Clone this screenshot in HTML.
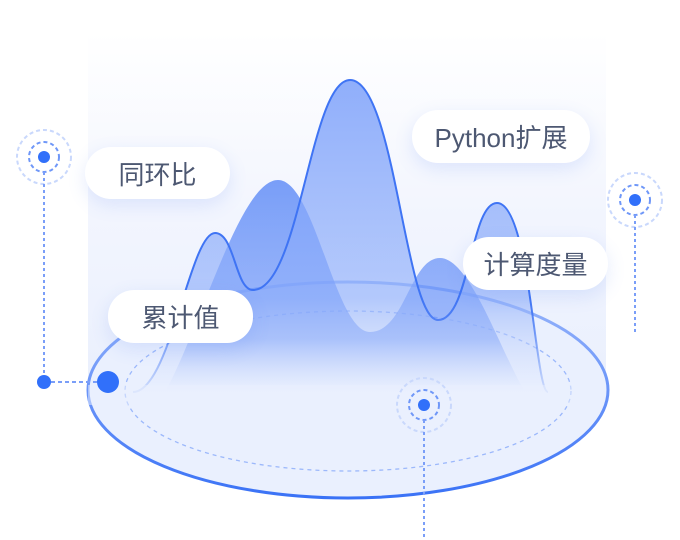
<!DOCTYPE html>
<html><head><meta charset="utf-8"><style>
html,body{margin:0;padding:0;background:#fff;}
body{width:680px;height:540px;position:relative;overflow:hidden;font-family:"Liberation Sans","Noto Sans CJK SC",sans-serif;}
.pill{position:absolute;background:#fff;border-radius:26px;color:#4d5872;font-size:26px;display:flex;align-items:center;justify-content:center;box-shadow:0 6px 18px rgba(90,130,240,0.16);}
</style></head><body>
<svg width="680" height="540" viewBox="0 0 680 540" style="position:absolute;left:0;top:0">
<defs>
<linearGradient id="bg" x1="0" y1="0" x2="0" y2="1">
<stop offset="0" stop-color="#ffffff"/><stop offset="0.5" stop-color="#f2f5fe"/><stop offset="1" stop-color="#e9effd"/>
</linearGradient>
<linearGradient id="back" x1="0" y1="0" x2="0" y2="1">
<stop offset="0" stop-color="#4f80f6" stop-opacity="0.75"/><stop offset="0.75" stop-color="#6d95f8" stop-opacity="0.6"/><stop offset="1" stop-color="#e8eefd" stop-opacity="0.2"/>
</linearGradient>
<linearGradient id="front" x1="0" y1="0" x2="0" y2="1">
<stop offset="0" stop-color="#7ca0fa" stop-opacity="0.85"/><stop offset="0.7" stop-color="#8eaefa" stop-opacity="0.6"/><stop offset="1" stop-color="#e8eefd" stop-opacity="0.3"/>
</linearGradient>
<linearGradient id="stk" gradientUnits="userSpaceOnUse" x1="0" y1="80" x2="0" y2="392">
<stop offset="0" stop-color="#3f74f4"/><stop offset="0.7" stop-color="#3f74f4"/><stop offset="1" stop-color="#3f74f4" stop-opacity="0.15"/>
</linearGradient>
<linearGradient id="ell" x1="0" y1="0" x2="0" y2="1">
<stop offset="0" stop-color="#9cb8fb"/><stop offset="1" stop-color="#3a72f6"/>
</linearGradient>
</defs>
<rect x="88" y="32" width="518" height="370" fill="url(#bg)"/>
<ellipse cx="348" cy="390" rx="260" ry="108" fill="#eaf0fe" stroke="url(#ell)" stroke-width="3"/>
<ellipse cx="348" cy="391" rx="223" ry="80" fill="none" stroke="#9cb8fb" stroke-width="1.3" stroke-dasharray="4 4"/>
<path d="M165,392 C200,330 240,180 278,180 C315,180 335,332 370,332 C405,332 410,258 440,258 C470,258 500,350 525,392 Z" fill="url(#back)"/>
<path d="M133,392 C170,392 190,233 215,233 C235,233 235,290 253,290 C300,290 310,80 350,80 C395,80 405,320 438,320 C470,320 470,203 497,203 C530,203 535,392 548,392 Z" fill="url(#front)"/>
<path d="M133,392 C170,392 190,233 215,233 C235,233 235,290 253,290 C300,290 310,80 350,80 C395,80 405,320 438,320 C470,320 470,203 497,203 C530,203 535,392 548,392" fill="none" stroke="url(#stk)" stroke-width="2"/>
<rect x="88" y="385" width="500" height="20" fill="#eaf0fe" opacity="0.5"/>
<circle cx="44" cy="157" r="27" fill="none" stroke="#c9d8fc" stroke-width="2" stroke-dasharray="4 3"/>
<circle cx="44" cy="157" r="15" fill="none" stroke="#6f97f8" stroke-width="2" stroke-dasharray="4 3"/>
<circle cx="44" cy="157" r="6" fill="#3170fa"/>
<line x1="44" y1="172" x2="44" y2="382" stroke="#7a9ef8" stroke-width="2" stroke-dasharray="3 3"/>
<line x1="44" y1="382" x2="108" y2="382" stroke="#7a9ef8" stroke-width="2" stroke-dasharray="4 3"/>
<circle cx="44" cy="382" r="7" fill="#3170fa"/>
<circle cx="108" cy="382" r="11" fill="#3170fa"/>
<circle cx="635" cy="200" r="27" fill="none" stroke="#c9d8fc" stroke-width="2" stroke-dasharray="4 3"/>
<circle cx="635" cy="200" r="15" fill="none" stroke="#6f97f8" stroke-width="2" stroke-dasharray="4 3"/>
<circle cx="635" cy="200" r="6" fill="#3170fa"/>
<line x1="635" y1="215" x2="635" y2="335" stroke="#7a9ef8" stroke-width="2" stroke-dasharray="3 3"/>
<circle cx="424" cy="405" r="27" fill="none" stroke="#c9d8fc" stroke-width="2" stroke-dasharray="4 3"/>
<circle cx="424" cy="405" r="15" fill="none" stroke="#6f97f8" stroke-width="2" stroke-dasharray="4 3"/>
<circle cx="424" cy="405" r="6" fill="#3170fa"/>
<line x1="424" y1="420" x2="424" y2="540" stroke="#7a9ef8" stroke-width="2" stroke-dasharray="3 3"/>
</svg>
<div class="pill" style="left:85px;top:147px;width:145px;height:52px;">同环比</div>
<div class="pill" style="left:108px;top:290px;width:145px;height:53px;">累计值</div>
<div class="pill" style="left:412px;top:110px;width:178px;height:53px;">Python扩展</div>
<div class="pill" style="left:463px;top:237px;width:145px;height:53px;">计算度量</div>
</body></html>
